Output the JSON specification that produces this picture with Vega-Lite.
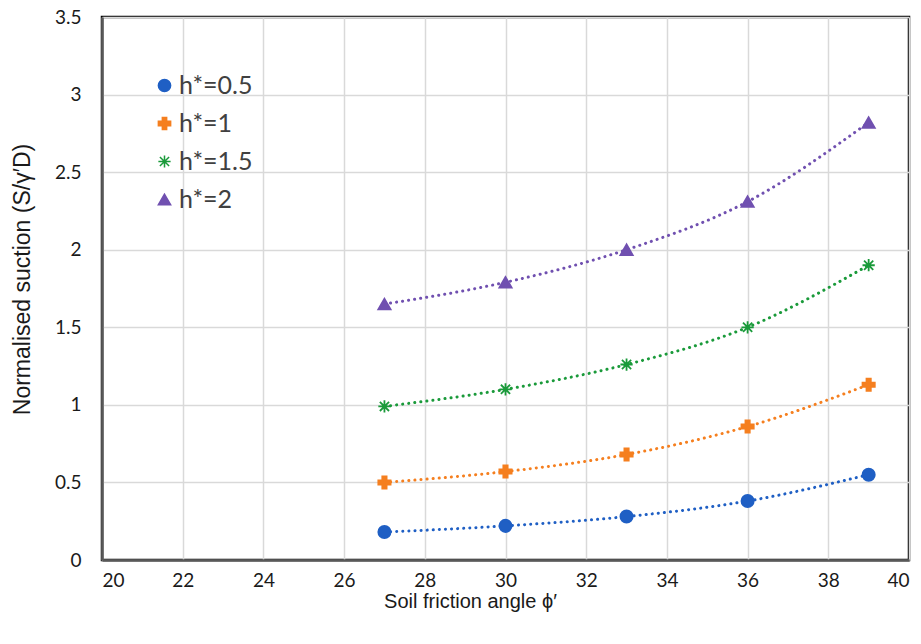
{
  "$schema": "https://vega.github.io/schema/vega-lite/v6.json",
  "width": 807,
  "height": 543,
  "autosize": "none",
  "padding": {"left": 102, "top": 17, "right": 12, "bottom": 84},
  "background": "white",
  "config": {
    "view": {"stroke": "#000000", "strokeWidth": 2.5},
    "axis": {
      "grid": true,
      "gridColor": "#d9d9d9",
      "gridWidth": 1.5,
      "domainColor": "#595959",
      "domainWidth": 2.5,
      "ticks": false,
      "labelFont": "Lato",
      "labelFontSize": 19,
      "labelColor": "#1a1a1a",
      "titleFont": "Liberation Sans",
      "titleFontSize": 20,
      "titleFontWeight": "normal",
      "titleColor": "#1a1a1a"
    },
    "legend": {
      "title": null,
      "orient": "none",
      "legendX": 50,
      "legendY": 56,
      "labelFont": "Lato",
      "labelFontSize": 25,
      "labelColor": "#404040",
      "symbolSize": 150,
      "symbolOpacity": 1,
      "symbolStrokeWidth": 1.5,
      "rowPadding": 12,
      "labelOffset": 2
    }
  },
  "data": {
    "values": [
      {"phi": 27, "s": 0.18, "h": "h*=0.5"},
      {"phi": 30, "s": 0.22, "h": "h*=0.5"},
      {"phi": 33, "s": 0.28, "h": "h*=0.5"},
      {"phi": 36, "s": 0.38, "h": "h*=0.5"},
      {"phi": 39, "s": 0.55, "h": "h*=0.5"},
      {"phi": 27, "s": 0.50, "h": "h*=1"},
      {"phi": 30, "s": 0.57, "h": "h*=1"},
      {"phi": 33, "s": 0.68, "h": "h*=1"},
      {"phi": 36, "s": 0.86, "h": "h*=1"},
      {"phi": 39, "s": 1.13, "h": "h*=1"},
      {"phi": 27, "s": 0.99, "h": "h*=1.5"},
      {"phi": 30, "s": 1.10, "h": "h*=1.5"},
      {"phi": 33, "s": 1.26, "h": "h*=1.5"},
      {"phi": 36, "s": 1.50, "h": "h*=1.5"},
      {"phi": 39, "s": 1.90, "h": "h*=1.5"},
      {"phi": 27, "s": 1.65, "h": "h*=2"},
      {"phi": 30, "s": 1.79, "h": "h*=2"},
      {"phi": 33, "s": 2.00, "h": "h*=2"},
      {"phi": 36, "s": 2.31, "h": "h*=2"},
      {"phi": 39, "s": 2.82, "h": "h*=2"}
    ]
  },
  "encoding": {
    "x": {
      "field": "phi", "type": "quantitative",
      "scale": {"domain": [20, 40], "nice": false, "zero": false},
      "axis": {"values": [20,22,24,26,28,30,32,34,36,38,40], "labelPadding": 11, "title": "Soil friction angle ϕ′", "titleX": 368, "titleY": 41, "titleBaseline": "middle"}
    },
    "y": {
      "field": "s", "type": "quantitative",
      "scale": {"domain": [0, 3.5], "nice": false},
      "axis": {"values": [0,0.5,1,1.5,2,2.5,3,3.5], "labelExpr": "'' + datum.value", "labelPadding": 21, "title": "Normalised suction (S/γ′D)", "titleFontSize": 23, "titleX": -80, "titleY": 262, "titleAngle": -90, "titleAlign": "center", "titleBaseline": "middle"}
    },
    "color": {
      "field": "h", "type": "nominal",
      "scale": {"domain": ["h*=0.5","h*=1","h*=1.5","h*=2"], "range": ["#1f5fc4","#f57f1f","#1a9a3a","#7050b0"]}
    }
  },
  "layer": [
    {
      "mark": {"type": "line", "interpolate": "monotone", "strokeWidth": 3, "strokeDash": [0.1, 6], "strokeCap": "round"}
    },
    {
      "mark": {"type": "point", "filled": true, "size": 150, "opacity": 1, "strokeWidth": 1.8},
      "encoding": {
        "shape": {
          "field": "h", "type": "nominal",
          "scale": {"domain": ["h*=0.5","h*=1","h*=1.5","h*=2"], "range": ["circle", "M-0.35,-1L0.35,-1L0.35,-0.35L1,-0.35L1,0.35L0.35,0.35L0.35,1L-0.35,1L-0.35,0.35L-1,0.35L-1,-0.35L-0.35,-0.35Z", "M-1,0L1,0M0,-1L0,1M-0.75,-0.75L0.75,0.75M-0.75,0.75L0.75,-0.75", "triangle-up"]}
        },
        "stroke": {"field": "h", "type": "nominal",
          "scale": {"domain": ["h*=0.5","h*=1","h*=1.5","h*=2"], "range": ["#1f5fc4","#f57f1f","#1a9a3a","#7050b0"]}}
      }
    }
  ]
}
